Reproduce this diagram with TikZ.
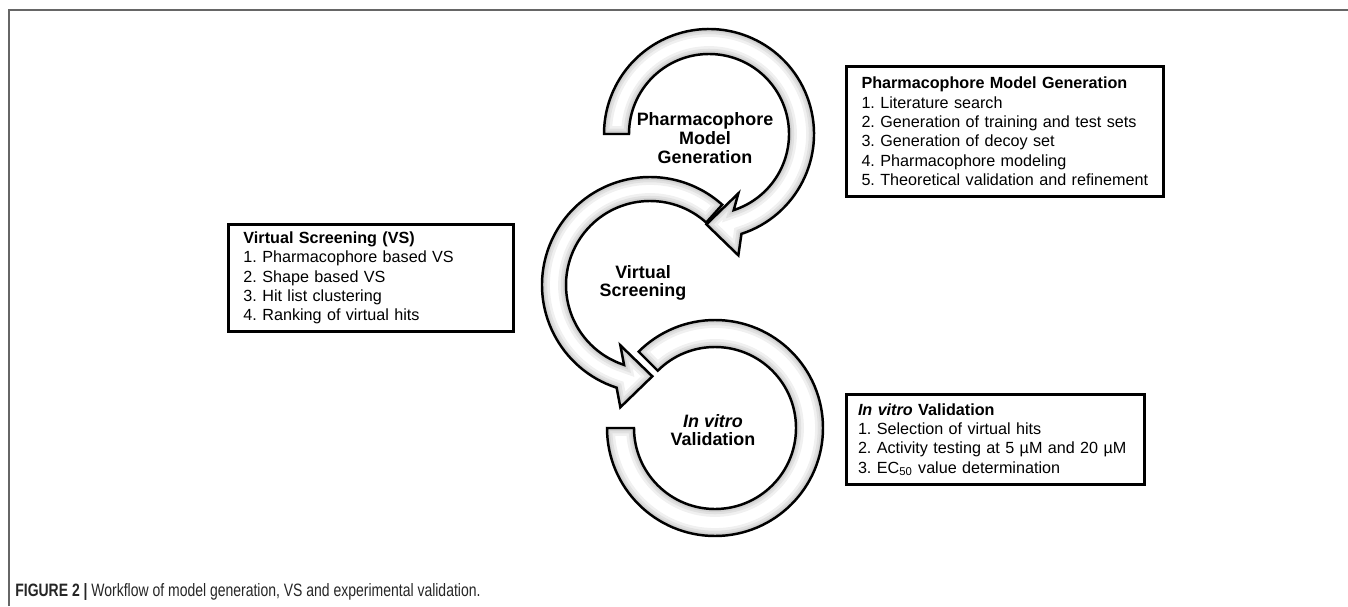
\documentclass[tikz,border=0pt]{standalone}
\usepackage{fontspec}
\setmainfont{Liberation Sans}
\newfontfamily\capfont[FakeStretch=0.78]{Liberation Sans}
\usetikzlibrary{calc}
\frenchspacing

\tikzset{
  ring/.style={draw=black, line width=1.4pt, line join=miter},
  ringglow/.style={draw=black, line width=#1, opacity=0.06},
  ringlabel/.style={font=\bfseries\fontsize{10.2}{10.6}\selectfont, align=center},
  infobox/.style={draw=black, line width=1.7pt, anchor=north west, align=left,
    inner xsep=0.3cm, inner ysep=0pt, font=\fontsize{9.2}{11}\selectfont},
  frameline/.style={draw=black!60, line width=1.1pt}
}

\begin{document}
\begin{tikzpicture}[x=0.02cm, y=0.02cm]
    \useasboundingbox (0,0) rectangle (1348,606);

    % figure frame
    \draw[frameline] (9,0) -- (9,596) -- (1348,596);

    % centres of the three rings
    \coordinate (pmg) at (709,472);
    \coordinate (vs) at (650,321);
    \coordinate (iv) at (715,178);

    % upper arrow, clockwise, head pointing left
    \path[save path=\pmgarrow, shift={(pmg)}] (180:80) arc[start angle=180, end angle=-72, radius=80]
        -- ($(-72:95)+(90:31)$) -- ($(-72:95)+(180:32)$) -- ($(-72:95)+(270:31)$)
        -- (-72:105) arc[start angle=-72, end angle=180, radius=105] -- cycle;

    % middle arrow, anticlockwise, head pointing right
    \path[save path=\vsarrow, shift={(vs)}] (48:84) arc[start angle=48, end angle=252, radius=84]
        -- ($(252:96)+(90:31)$) -- ($(252:96)+(0:32)$) -- ($(252:96)+(270:31)$)
        -- (252:108) arc[start angle=252, end angle=48, radius=108] -- cycle;

    % lower ring, no head
    \path[save path=\ivring, shift={(iv)}] (135:81) arc[start angle=135, end angle=-180, radius=81]
        -- (180:108) arc[start angle=-180, end angle=135, radius=108] -- cycle;

    % white bands with a soft grey edge
    \foreach \band in {\pmgarrow,\vsarrow,\ivring} {
      \fill[white, use path=\band];
      \begin{scope}
        \clip[use path=\band];
        \foreach \w in {9,6,3.5,1.8} \draw[ringglow=\w pt, use path=\band];
      \end{scope}
      \draw[ring, use path=\band];
    }

    % ring labels
    \node[ringlabel] (pmgtext) at (705,468) {Pharmacophore\\Model\\Generation};
    \node[ringlabel] (vstext) at (643,323) {Virtual\\Screening};
    \node[ringlabel] (ivtext) at (713,176) {\textit{In vitro}\\Validation};

    % step boxes
    \node[infobox, minimum width=6.34cm, minimum height=2.6cm, text width=5.74cm] (pmgbox) at (845,541)
        {\textbf{Pharmacophore Model Generation}\\1. Literature search\\2. Generation of training and test sets\\3. Generation of decoy set\\4. Pharmacophore modeling\\5. Theoretical validation and refinement};
    \node[infobox, minimum width=5.7cm, minimum height=2.14cm, text width=5.1cm] (vsbox) at (227,383)
        {\textbf{Virtual Screening (VS)}\\1. Pharmacophore based VS\\2. Shape based VS\\3. Hit list clustering\\4. Ranking of virtual hits};
    \node[infobox, inner xsep=0.23cm, minimum width=5.96cm, minimum height=1.8cm, text width=5.5cm] (ivbox) at (845,213)
        {\textbf{\textit{In vitro} Validation}\\1. Selection of virtual hits\\2. Activity testing at 5 µM and 20 µM\\3. EC\textsubscript{50} value determination};

    % caption
    \node[anchor=base west, inner sep=0pt, text=black!85, font=\capfont\fontsize{10.2}{12}\selectfont] (caption) at (15,9.5)
        {\textbf{FIGURE 2 |} Workflow of model generation, VS and experimental validation.};

\end{tikzpicture}
\end{document}
